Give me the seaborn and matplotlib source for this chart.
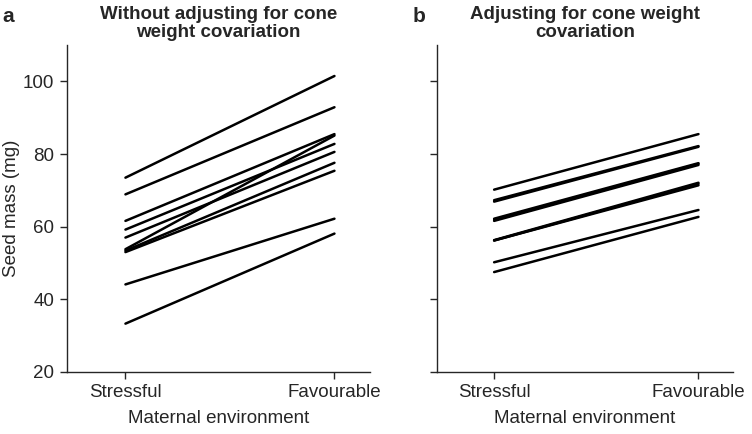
import matplotlib
matplotlib.use("Agg")
import matplotlib.pyplot as plt
import seaborn as sns
import pandas as pd

environments = ["Stressful", "Favourable"]

# Panel a: without adjusting for cone weight covariation
a_stressful = [73.5, 68.9, 61.6, 59.2, 57.0, 53.8, 53.4, 53.0, 44.1, 33.3]
a_favourable = [101.5, 92.9, 85.5, 82.8, 80.6, 85.1, 77.6, 75.4, 62.2, 58.1]

# Panel b: adjusting for cone weight covariation
b_stressful = [70.2, 66.9, 67.3, 61.6, 61.9, 62.2, 56.2, 56.2, 56.3, 50.2, 47.5]
b_favourable = [85.5, 82.0, 82.2, 77.0, 77.3, 77.5, 71.4, 71.8, 72.1, 64.6, 62.7]

y_ticks = [20, 40, 60, 80, 100]


def make_df(stress, fav):
    rows = []
    for i, (s, f) in enumerate(zip(stress, fav)):
        rows.append({"id": i, "env": 0, "mass": s})
        rows.append({"id": i, "env": 1, "mass": f})
    return pd.DataFrame(rows)


sns.set_style("ticks")
plt.rcParams["font.family"] = ["Liberation Sans", "DejaVu Sans"]

fig = plt.figure(figsize=(7.52, 4.34), dpi=100)
ax1 = fig.add_axes([0.089, 0.143, 0.403, 0.753])
ax2 = fig.add_axes([0.581, 0.143, 0.394, 0.753])

for ax, st, fv, title in [
    (ax1, a_stressful, a_favourable, "Without adjusting for cone\nweight covariation"),
    (ax2, b_stressful, b_favourable, "Adjusting for cone weight\ncovariation"),
]:
    df = make_df(st, fv)
    sns.lineplot(data=df, x="env", y="mass", units="id", estimator=None,
                 color="black", linewidth=1.8, ax=ax, legend=False)
    ax.set_xlim(-0.28, 1.17)
    ax.set_ylim(20, 110)
    ax.set_xticks([0, 1])
    ax.set_xticklabels(environments)
    ax.set_yticks(y_ticks)
    ax.set_xlabel("Maternal environment", fontsize=13.5, labelpad=6)
    ax.set_title(title, fontsize=13.5, fontweight="bold", pad=6, linespacing=1.05)
    for side in ["top", "right"]:
        ax.spines[side].set_visible(False)
    ax.spines["left"].set_linewidth(1.0)
    ax.spines["bottom"].set_linewidth(1.0)
    ax.tick_params(direction="out", length=5, width=1.0, labelsize=13.5, pad=4)

ax1.set_ylabel("Seed mass (mg)", fontsize=13.5, labelpad=2)
ax2.set_ylabel("")
ax2.set_yticklabels([])

fig.text(0.003, 0.985, "a", fontsize=15, fontweight="bold", va="top")
fig.text(0.548, 0.985, "b", fontsize=15, fontweight="bold", va="top")

fig.savefig("out.png", dpi=100)
